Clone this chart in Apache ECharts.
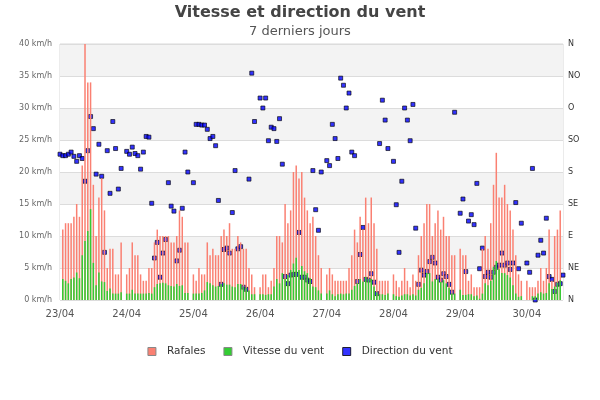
<!DOCTYPE html>
<html><head><meta charset="utf-8">
<script src="https://cdn.jsdelivr.net/npm/echarts@6/dist/echarts.min.js"></script>
<style>html,body{margin:0;padding:0;background:#fff}#c{width:600px;height:400px}</style>
</head><body><div id="c"></div>
<script>
// Hourly data from 23/04 00:00 (index = hour). null = missing hour.
const dayLabels = ['23/04','24/04','25/04','26/04','27/04','28/04','29/04','30/04'];
const dirLabels = ['N','NE','E','SE','S','SO','O','NO','N'];

const rafales = [
  null, 11,12,12,12,13,15,13,21,40,34,34,18,10,16,19,14,5,8,8,4,4,9, null,
  4,5,9,7,7,4, 3,3,5,5,9,11,10,10,10,10,9,9,10,14,13,9,9, null,
  4,3,5,4,4,9,7,8,7,7,10,11, 10,12,8,8,10,9,8,8,5,4,2, null,
  2,4,4,2,3,5,10,10,9,15,12,14,20,21,19,20,16,14,12,13,10,7,5, null,
  4,5,4,3,3,3,3,3,5,7,11,9,13,11,16,12,16,12,8,3,3,3,3, null,
  4,3,2,3,5,3,2,4,3,7,10,12,15,15,10,12,14,11,13,10,10,7,7, null,
  8,7,7,3,4,2,2,2,8,10,8,12,18,23,16,16,18,15,14,11,7,4,3, null,
  3,2,2,2,3,5,3,5,11,3,10,11,14, null
];
const vitesse = [
  null, 3.3,3.0,2.6,3.3,3.5,4.3,3.4,7,9.2,10.8,14.2,5.8,2.3,4.3,2.9,2.8,1.4,1.8,1,1,1,1.2, null,
  1,1,1.6,1,1,1, 1,1,1.1,1,2,2.5,2.6,2.7,2.6,2.3,2.2,2.1,2.5,2.2,2.3,1.1,1.1, null,
  1,1,1,1.1,1.5,2.8,2.6,2.3,2.1,2.2,2.5,2.6, 2.4,2.4,2.1,2,2.5,2.5,2.1,1.9,1.5,0.9,0.9, null,
  0.9,0.9,0.8,0.9,0.9,2.1,3.3,2.6,4.2,3.3,3.9,4.7,5.7,6.6,4.7,5.3,4.5,4.2,3.4,2.1,2,1.5,1, null,
  1,1.5,0.9,0.6,0.9,1,0.9,1,1,1.6,2.2,2.6,3.3,2.9,3.6,3.3,3.3,2.1,1.2,0.9,0.9,0.8,1, null,
  0.9,0.6,0.5,0.7,0.9,0.9,0.7,0.9,0.7,1.6,1.9,2.6,4.2,4.2,2.9,3.3,3.3,2.8,3.1,2.6,1.9,1,1, null,
  1.6,0.8,0.8,0.9,0.9,0.6,0.7,0.2,1,2.6,2.3,3,5.2,6.1,4.8,4.2,4.2,3.9,3.5,2.3,1,0.5,0.6, null,
  0,0,0.6,0.6,1,1.2,1,1.1,2.6,1.7,2.1,2.7,3.1, null
];
const direction = [
  205,203,203,205,208,202,195,203,199,167,210,258,241,177,219,174,67,210,150,251,213,156,185, null,
  209,205,215,206,203,184,208,230,229,136,59,81,32,66,85,165,132,125,55,70,129,208,180, null,
  165,247,247,246,246,240,227,230,217,140,22,71,73,66,123,182,72,75,18,15,170,319,251, null,
  284,270,284,224,243,241,223,255,191,33,23,35,36,36,95,32,32,28,26,182,127,98,180, null,
  196,189,247,227,199,312,302,270,291,208,203,26,64,102,29,28,37,25,9,220,281,253,213, null,
  195,134,67,167,270,253,224,275,101,22,42,35,40,54,60,52,32,28,37,33,22,11,264, null,
  122,142,40,111,120,106,164,44,73,33,39,32,39,46,49,66,49,52,43,52,137,44,108, null,
  52,39,185,0,63,84,66,115,33,29,12,22,23,35
];

const pairs = arr => arr.map((v, i) => [i, v]);
const chart = echarts.init(document.getElementById('c'), null, {renderer: 'canvas'});
chart.setOption({
  animation: false,
  textStyle: {fontFamily: 'DejaVu Sans'},
  title: {
    text: 'Vitesse et direction du vent',
    subtext: '7 derniers jours',
    left: 'center', top: 0, itemGap: 4,
    textStyle: {fontSize: 16, fontWeight: 'bold', color: '#444', fontFamily: 'DejaVu Sans'},
    subtextStyle: {fontSize: 13, color: '#555', fontFamily: 'DejaVu Sans'}
  },
  legend: {
    top: 341, left: 'center', itemWidth: 8, itemHeight: 8, itemGap: 18,
    textStyle: {fontSize: 10.5, color: '#333', padding: [0, 0, 0, 6]},
    data: [
      {name: 'Rafales', icon: 'rect', itemStyle: {borderColor: '#888', borderWidth: 1}},
      {name: 'Vitesse du vent', icon: 'rect', itemStyle: {borderColor: '#888', borderWidth: 1}},
      {name: 'Direction du vent', icon: 'rect', itemStyle: {borderColor: '#000', borderWidth: 1}}
    ]
  },
  grid: {left: 60, right: 37, top: 44, bottom: 100, show: true, borderColor: '#d8d8d8', borderWidth: 1, backgroundColor: 'transparent'},
  xAxis: {
    type: 'value', min: 0, max: 181, interval: 24,
    axisLine: {show: false}, axisTick: {show: false}, splitLine: {show: false},
    axisLabel: {formatter: v => dayLabels[v / 24] || '', color: '#555', fontSize: 10, margin: 9, showMaxLabel: false}
  },
  yAxis: [
    {
      type: 'value', min: 0, max: 40, interval: 5, position: 'left',
      axisLabel: {formatter: '{value} km/h', fontSize: 8, color: '#666', margin: 8},
      splitLine: {lineStyle: {color: '#dcdcdc', width: 1}},
      splitArea: {show: true, areaStyle: {color: ['#ffffff', '#f3f3f3']}},
      axisLine: {show: false}, axisTick: {show: false}
    },
    {
      type: 'value', min: 0, max: 360, interval: 45, position: 'right',
      axisLabel: {formatter: v => dirLabels[v / 45], fontSize: 8, color: '#333', margin: 5},
      splitLine: {show: false}, axisLine: {show: false}, axisTick: {show: false}
    }
  ],
  series: [
    {name: 'Rafales', type: 'bar', data: pairs(rafales), barWidth: 1.5, itemStyle: {color: '#fa8072'}, z: 3},
    {name: 'Vitesse du vent', type: 'bar', data: pairs(vitesse), barWidth: 1.5, barGap: '-100%', itemStyle: {color: '#33cc33'}, z: 4},
    {name: 'Direction du vent', type: 'scatter', yAxisIndex: 1, data: pairs(direction), symbol: 'rect', symbolSize: 4,
     itemStyle: {color: '#0000ff', borderColor: '#000', borderWidth: 0.8}, z: 2}
  ]
});
</script>
</body></html>
